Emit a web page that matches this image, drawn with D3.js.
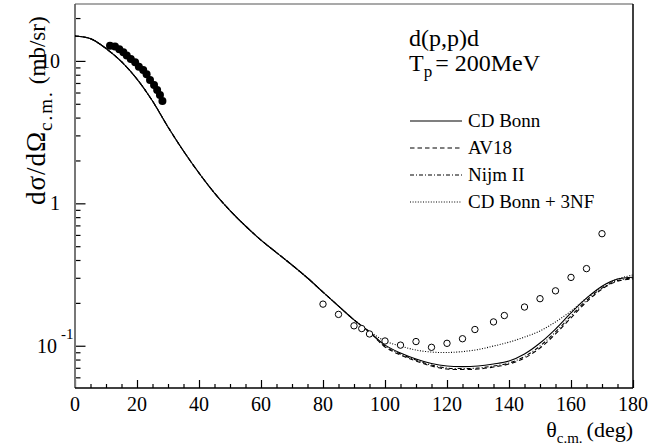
<!DOCTYPE html>
<html>
<head>
<meta charset="utf-8">
<script src="https://cdn.jsdelivr.net/npm/d3@7"></script>
<style>
  body { margin: 0; background: #fff; }
  svg { display: block; }
  .f1 { font-family: "Liberation Serif"; }
</style>
</head>
<body>
<div id="chart"></div>
<script>
// angles (deg) and cross sections (mb/sr)
const curveAngles = [0, 5, 10, 15, 20, 25, 30, 35, 40, 45, 50, 55, 60, 65, 70, 75, 80, 85, 90, 95,
    100, 105, 110, 115, 120, 125, 130, 135, 140, 145, 150, 155, 160, 165, 170, 175, 180];
const commonPart = [14.96, 14.34, 12.22, 9.87, 7.46, 5.23, 3.435, 2.329, 1.632, 1.181, 0.890, 0.693, 0.552,
    0.451, 0.369, 0.299, 0.238, 0.190, 0.152, 0.1248];
const cdBonn = commonPart.concat([0.101, 0.0889, 0.0807, 0.0750, 0.0720, 0.0713, 0.0720, 0.0744, 0.0781,
    0.0875, 0.1045, 0.131, 0.170, 0.216, 0.262, 0.294, 0.303]);
const av18 = commonPart.concat([0.098, 0.0861, 0.0781, 0.0720, 0.0686, 0.0681, 0.0686, 0.0709, 0.0744,
    0.082, 0.0964, 0.121, 0.157, 0.203, 0.250, 0.284, 0.294]);
const nijm2 = commonPart.concat([0.0995, 0.0875, 0.0794, 0.0732, 0.0697, 0.0692, 0.0697, 0.0720, 0.0756,
    0.0840, 0.0995, 0.125, 0.162, 0.208, 0.254, 0.287, 0.299]);
const cdBonn3nf = commonPart.slice(0, 19).concat([0.126, 0.108, 0.0995, 0.0933, 0.0903, 0.0896, 0.0910,
    0.0940, 0.0995, 0.106, 0.115, 0.127, 0.147, 0.175, 0.216, 0.259, 0.294, 0.314]);

const fwdAngles = [11.3, 12.9, 14.3, 15.6, 16.7, 18.0, 19.4, 20.6, 22.0, 23.1, 24.2, 25.5, 26.5, 27.4, 28.2];
const fwdValues = [12.8, 12.6, 12.1, 11.5, 10.9, 10.3, 9.78, 9.10, 8.63, 8.05, 7.34, 6.77, 6.25, 5.77, 5.23];

const bwdAngles = [80, 85, 90, 92.5, 95, 100, 105, 110, 115, 120, 125, 129, 135, 138.5, 145, 150, 155, 160, 165, 170];
const bwdValues = [0.196, 0.166, 0.138, 0.132, 0.121, 0.108, 0.101, 0.107, 0.0975, 0.104, 0.112, 0.130,
    0.147, 0.163, 0.187, 0.214, 0.243, 0.302, 0.348, 0.612];

const series = [
    { name: 'CD Bonn', values: cdBonn, dash: null },
    { name: 'AV18', values: av18, dash: '4.5,3' },
    { name: 'Nijm II', values: nijm2, dash: '4,2,1,2' },
    { name: 'CD Bonn + 3NF', values: cdBonn3nf, dash: '1,1.6' }
];

const W = 649, H = 447;
const plot = { left: 75, right: 633, top: 4, bottom: 388 };

const svg = d3.select('#chart').append('svg')
    .attr('width', W)
    .attr('height', H);

svg.append('rect').attr('width', W).attr('height', H).attr('fill', '#fff');

const x = d3.scaleLinear().domain([0, 180]).range([plot.left, plot.right]);
const y = d3.scaleLog().domain([0.0505, 25.1]).range([plot.bottom, plot.top]);

function label(parent, px, py, size) {
    return parent.append('text')
        .attr('class', 'f1')
        .attr('fill', '#000')
        .attr('x', px).attr('y', py)
        .attr('font-size', size);
}

// minor / major ticks on x
const xMinor = d3.range(0, 181, 5).filter(v => v % 20 !== 0);
const xMajor = d3.range(0, 181, 20);
svg.append('g').attr('transform', `translate(0,${plot.bottom})`)
    .call(d3.axisBottom(x).tickValues(xMinor).tickSize(-4).tickFormat(''))
    .call(g => g.select('.domain').remove());
svg.append('g').attr('transform', `translate(0,${plot.bottom})`)
    .call(d3.axisBottom(x).tickValues(xMajor).tickSize(-8).tickFormat(''))
    .call(g => g.select('.domain').remove());
xMajor.forEach(v => {
    label(svg, x(v), plot.bottom + 23, 20).attr('text-anchor', 'middle').text(v);
});

// y ticks
const yMinor = [];
[0.01, 0.1, 1, 10].forEach(d => { for (let k = 2; k <= 9; k++) yMinor.push(d * k); });
const yMinorIn = yMinor.filter(v => v > 0.0505 && v < 25.1);
svg.append('g').attr('transform', `translate(${plot.left},0)`)
    .call(d3.axisLeft(y).tickValues(yMinorIn).tickSize(-5.5).tickFormat(''))
    .call(g => g.select('.domain').remove());
svg.append('g').attr('transform', `translate(${plot.left},0)`)
    .call(d3.axisLeft(y).tickValues([0.1, 1, 10]).tickSize(-10.5).tickFormat(''))
    .call(g => g.select('.domain').remove());

svg.selectAll('.tick line').attr('stroke', '#000').attr('stroke-width', 1.2);

// y labels
label(svg, 60, y(10) + 7, 20).attr('text-anchor', 'end').text('10');
label(svg, 60, y(1) + 7, 20).attr('text-anchor', 'end').text('1');
const tenMinus = label(svg, 37, y(0.1) + 7, 20);
tenMinus.append('tspan').text('10');
tenMinus.append('tspan').attr('dx', 4).attr('dy', -14).attr('font-size', 15).text('-1');

// frame
svg.append('line').attr('x1', plot.left).attr('x2', plot.left).attr('y1', plot.top).attr('y2', plot.bottom)
    .attr('stroke', '#777').attr('stroke-width', 2);
svg.append('line').attr('x1', plot.left).attr('x2', plot.right).attr('y1', plot.top).attr('y2', plot.top)
    .attr('stroke', '#555').attr('stroke-width', 1.2);
svg.append('line').attr('x1', plot.right).attr('x2', plot.right).attr('y1', plot.top).attr('y2', plot.bottom)
    .attr('stroke', '#000').attr('stroke-width', 1.5);
svg.append('line').attr('x1', plot.left).attr('x2', plot.right).attr('y1', plot.bottom).attr('y2', plot.bottom)
    .attr('stroke', '#000').attr('stroke-width', 1.5);

// curves
const line = d3.line()
    .x((d, i) => x(curveAngles[i]))
    .y(d => y(d))
    .curve(d3.curveCatmullRom);

series.forEach(s => {
    svg.append('path')
        .attr('d', line(s.values))
        .attr('fill', 'none')
        .attr('stroke', '#000')
        .attr('stroke-width', 1.1)
        .attr('stroke-dasharray', s.dash);
});

// data points
svg.append('g').selectAll('circle')
    .data(fwdAngles)
    .enter().append('circle')
    .attr('cx', d => x(d))
    .attr('cy', (d, i) => y(fwdValues[i]))
    .attr('r', 4)
    .attr('fill', '#000');

svg.append('g').selectAll('circle')
    .data(bwdAngles)
    .enter().append('circle')
    .attr('cx', d => x(d))
    .attr('cy', (d, i) => y(bwdValues[i]))
    .attr('r', 3.2)
    .attr('fill', '#fff')
    .attr('stroke', '#000')
    .attr('stroke-width', 1);

// legend
label(svg, 409, 46, 24).text('d(p,p)d');
const tp = label(svg, 409, 71, 24);
tp.append('tspan').text('T');
tp.append('tspan').attr('dy', 6).attr('font-size', 17).text('p');
tp.append('tspan').attr('dy', -6).attr('dx', 3).text('= 200MeV');

const legY = [121, 148, 175, 202];
series.forEach((s, i) => {
    svg.append('line')
        .attr('x1', 410).attr('x2', 462)
        .attr('y1', legY[i]).attr('y2', legY[i])
        .attr('stroke', '#000').attr('stroke-width', 1.1)
        .attr('stroke-dasharray', s.dash);
    label(svg, 468, legY[i] + 6, 19).text(s.name);
});

// axis titles
const xt = label(svg, 633, 437, 22).attr('text-anchor', 'end');
xt.append('tspan').text('θ');
xt.append('tspan').attr('dy', 6).attr('font-size', 15).text('c.m.');
xt.append('tspan').attr('dy', -6).attr('dx', 4).text('(deg)');

const yTitle = svg.append('g').attr('transform', 'translate(45,205) rotate(-90)');
const yt = label(yTitle, 0, 0, 27);
yt.append('tspan').attr('letter-spacing', 1).text('dσ/dΩ');
yt.append('tspan').attr('dy', 7).attr('font-size', 19).attr('letter-spacing', 2).text('c.m.');
yt.append('tspan').attr('dy', -7).attr('dx', 6).attr('font-size', 23).attr('letter-spacing', 0).text('(mb/sr)');
</script>
</body>
</html>
